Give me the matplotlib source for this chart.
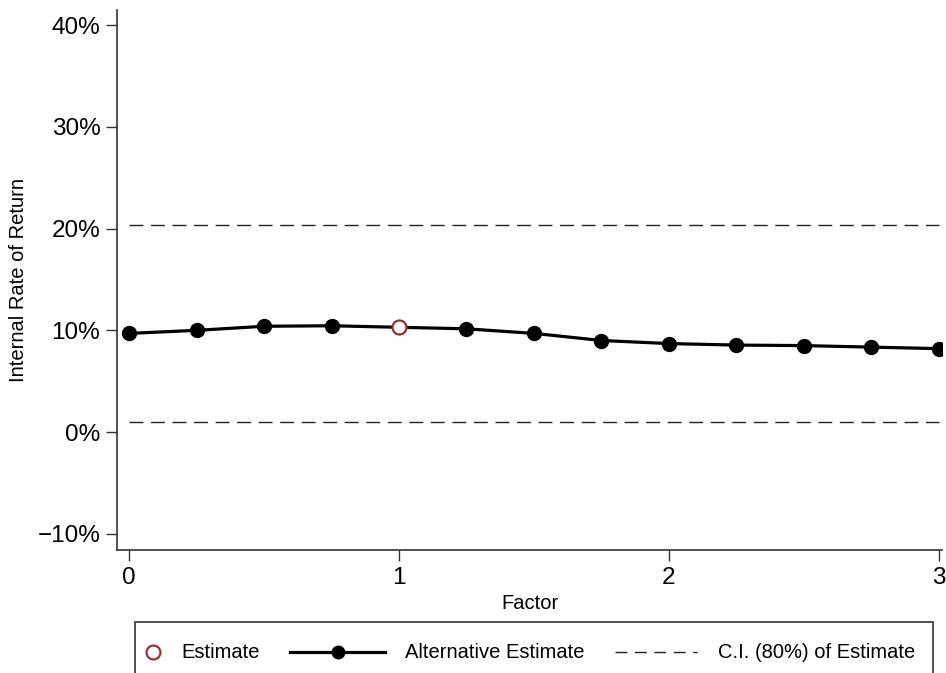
import numpy as np
import matplotlib
matplotlib.use('Agg')
import matplotlib.pyplot as plt
from matplotlib.lines import Line2D
from matplotlib.patches import Rectangle

plt.rcParams['font.family'] = ['Liberation Sans', 'DejaVu Sans']

# values (percent)
factor = [0, 0.25, 0.5, 0.75, 1.0, 1.25, 1.5, 1.75, 2.0, 2.25, 2.5, 2.75, 3.0]
alt_irr = [9.7, 10.0, 10.4, 10.45, 10.3, 10.15, 9.7, 9.0, 8.7, 8.55, 8.5, 8.35, 8.2]
est_factor = [1.0]
est_irr = [10.3]
ci_low = 1.0
ci_high = 20.4

yticks = [-10, 0, 10, 20, 30, 40]
xticks = [0, 1, 2, 3]
legend_labels = ['Estimate', 'Alternative Estimate', 'C.I. (80%) of Estimate']

W, H = 946, 673
fig = plt.figure(figsize=(W / 100, H / 100), dpi=100)
ax = fig.add_axes([117 / W, 1 - 550 / H, (942 - 117) / W, 540 / H])

dash = (0, (10, 5.5))
ax.plot([0, 3], [ci_high, ci_high], color='#222222', lw=1.0, linestyle=dash, zorder=1)
ax.plot([0, 3], [ci_low, ci_low], color='#222222', lw=1.0, linestyle=dash, zorder=1)
ax.plot(factor, alt_irr, color='black', lw=2.3, marker='o', markersize=10, zorder=2)
ax.plot(est_factor, est_irr, linestyle='none', marker='o', markersize=10,
        markerfacecolor='white', markeredgecolor='#993333', markeredgewidth=1.6, zorder=3)

ax.set_xlim(-0.045, 3.012)
ax.set_ylim(-11.6, 41.5)
ax.set_yticks(yticks)
ax.set_yticklabels(['\u2212%d%%' % -v if v < 0 else '%d%%' % v for v in yticks])
ax.set_xticks(xticks)
ax.set_xticklabels([str(v) for v in xticks])
ax.tick_params(labelsize=17.5, length=8, width=1.0, color='#333333', pad=4)
for s in ['top', 'right']:
    ax.spines[s].set_visible(False)
for s in ['left', 'bottom']:
    ax.spines[s].set_color('#333333')
    ax.spines[s].set_linewidth(1.2)

ax.set_xlabel('Factor', fontsize=14.5, labelpad=4)
ax.set_ylabel('Internal Rate of Return', fontsize=14.5, labelpad=7)

# legend drawn by hand in pixel coords so it matches the boxed Stata legend
def fx(px):
    return px / W

def fy(py):
    return 1 - py / H

fig.patches.append(Rectangle((fx(135), fy(685)), fx(933) - fx(135), fy(622) - fy(685),
                             transform=fig.transFigure, fill=False, edgecolor='#333333', lw=1.2))
ly = fy(652)
fig.lines.append(Line2D([fx(153)], [ly], transform=fig.transFigure, linestyle='none', marker='o',
                        markersize=10, markerfacecolor='white', markeredgecolor='#993333',
                        markeredgewidth=1.6))
fig.lines.append(Line2D([fx(290), fx(385)], [ly, ly], transform=fig.transFigure, color='black',
                        lw=2.3))
fig.lines.append(Line2D([fx(338)], [ly], transform=fig.transFigure, linestyle='none', marker='o',
                        markersize=9, color='black'))
fig.lines.append(Line2D([fx(615), fx(697)], [ly, ly], transform=fig.transFigure, color='#222222',
                        lw=1.0, linestyle=(0, (8.5, 5.5))))
for x0, lab in zip([181, 405, 718], legend_labels):
    fig.text(fx(x0), ly, lab, fontsize=14.5, va='center', ha='left')

fig.savefig('out.png', dpi=100)
